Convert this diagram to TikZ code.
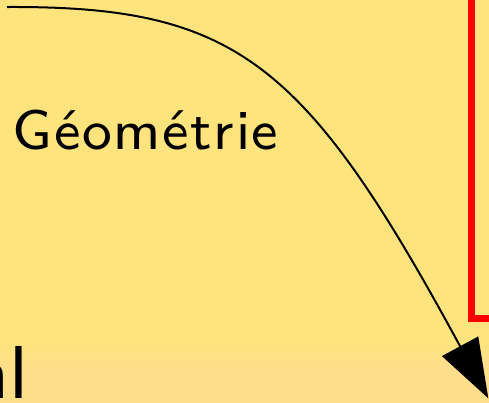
\documentclass[tikz,border=0pt]{standalone}
\usepackage{fontspec}
\newfontfamily\labelfont{lmsans8-regular.otf}[LetterSpace=3]
\newfontfamily\bigfont{lmsans8-regular.otf}
\usetikzlibrary{arrows.meta}
\definecolor{bgtop}{HTML}{FFE47E}
\definecolor{bgbot}{HTML}{FFDF89}
\begin{document}
\begin{tikzpicture}[x=0.5pt, y=-0.5pt, >={Triangle[length=29.6pt, width=20.4pt]},
    lbl/.style={inner sep=0pt, text=black}]
    % Background
    \useasboundingbox (0,0) rectangle (489,403);
    \fill[bgtop] (0,0) rectangle (489,341);
    \shade[top color=bgtop, bottom color=bgbot] (0,340) rectangle (489,366);
    \fill[bgbot] (0,365) rectangle (489,403);

    % Box on the right
    \node[draw=red, line width=3.4pt, outer sep=0pt, inner sep=0pt,
        minimum width=200pt, minimum height=250pt, anchor=south west] (box) at (471.7,318.8) {};

    % Labels
    \node[lbl, anchor=base west, font=\fontsize{28}{33}\selectfont\labelfont] (geo) at (12.5,149.5) {Géométrie};
    \node[lbl, anchor=base east, font=\fontsize{37.5}{44}\selectfont\bigfont] (nl) at (29,398) {nl};

    % Arrow
    \coordinate (src) at (7,7);
    \coordinate (tip) at (488.3,398.3);
    \draw[->, line width=1pt] (src) .. controls (235,6) and (305,60) .. (tip);
\end{tikzpicture}
\end{document}
